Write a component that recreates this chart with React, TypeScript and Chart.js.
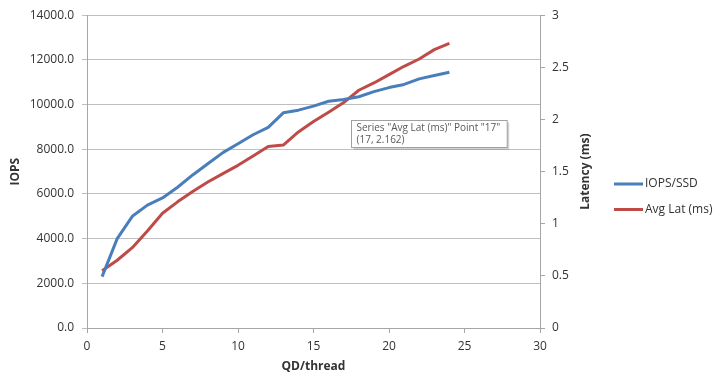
import React, { useEffect, useRef } from 'react';
import { Chart, registerables } from 'chart.js';

Chart.register(...registerables);

// ---- Data ----
const qdPerThread = [1, 2, 3, 4, 5, 6, 7, 8, 9, 10, 11, 12, 13, 14, 15, 16, 17, 18, 19, 20, 21, 22, 23, 24];
const iopsPerSsd = [2300, 4000, 5000, 5500, 5820, 6300, 6850, 7350, 7850, 8250, 8650, 8980, 9630, 9750, 9930, 10150, 10230, 10350, 10580, 10760, 10900, 11150, 11300, 11450];
const avgLatMs = [0.55, 0.65, 0.77, 0.93, 1.1, 1.21, 1.31, 1.4, 1.48, 1.56, 1.65, 1.74, 1.755, 1.88, 1.98, 2.07, 2.162, 2.28, 2.35, 2.43, 2.51, 2.58, 2.67, 2.73];
const seriesLabels = ['IOPS/SSD', 'Avg Lat (ms)'];
const seriesColors = ['#4a7ebb', '#be4b48'];
const xTitle = 'QD/thread';
const yLeftTitle = 'IOPS';
const yRightTitle = 'Latency (ms)';
const tooltipSeries = 1;
const tooltipPointIndex = 16; // point "17"

const FONT = "'Open Sans', 'Noto Sans', 'DejaVu Sans', sans-serif";
const TEXT = '#333333';
const AXIS = '#a6a6a6';
const GRID = '#bfbfbf';

const overlayPlugin = {
  id: 'overlay',
  afterDraw(chart: any) {
    const { ctx, chartArea, scales } = chart;
    ctx.save();
    // right axis title (reads bottom-to-top)
    ctx.translate(586, (chartArea.top + chartArea.bottom) / 2);
    ctx.rotate(-Math.PI / 2);
    ctx.font = `bold 12px ${FONT}`;
    ctx.fillStyle = TEXT;
    ctx.textAlign = 'center';
    ctx.textBaseline = 'middle';
    ctx.fillText(yRightTitle, 0, 0);
    ctx.restore();

    // legend
    ctx.save();
    ctx.font = `12px ${FONT}`;
    ctx.textBaseline = 'middle';
    ctx.textAlign = 'left';
    seriesLabels.forEach((lab, i) => {
      const y = 184 + i * 25.5;
      ctx.strokeStyle = seriesColors[i];
      ctx.lineWidth = 3;
      ctx.beginPath();
      ctx.moveTo(614, y);
      ctx.lineTo(643, y);
      ctx.stroke();
      ctx.fillStyle = TEXT;
      ctx.fillText(lab, 645, y);
    });
    ctx.restore();

    // tooltip box
    const q = qdPerThread[tooltipPointIndex];
    const v = avgLatMs[tooltipPointIndex];
    const px = scales.x.getPixelForValue(q);
    const py = scales.y1.getPixelForValue(v);
    const line1 = `Series "${seriesLabels[tooltipSeries]}" Point "${q}"`;
    const line2 = `(${q}, ${v})`;
    ctx.save();
    ctx.font = `10px ${FONT}`;
    const w = Math.max(ctx.measureText(line1).width, ctx.measureText(line2).width) + 12;
    const h = 27;
    const bx = Math.round(px + 7) + 0.5;
    const by = Math.round(py + 17) + 0.5;
    ctx.fillStyle = 'rgba(0,0,0,0.18)';
    ctx.fillRect(bx + 2, by + 2, w, h);
    ctx.fillStyle = '#ffffff';
    ctx.fillRect(bx, by, w, h);
    ctx.strokeStyle = '#a0a0a0';
    ctx.lineWidth = 1;
    ctx.strokeRect(bx, by, w, h);
    ctx.fillStyle = '#595959';
    ctx.textBaseline = 'middle';
    ctx.textAlign = 'left';
    ctx.fillText(line1, bx + 5, by + 8);
    ctx.fillText(line2, bx + 5, by + 20);
    ctx.restore();
  },
};

export default function App() {
  const ref = useRef<HTMLCanvasElement>(null);
  useEffect(() => {
    document.body.style.margin = '0';
    Chart.defaults.font.family = FONT;
    Chart.defaults.font.size = 12;
    Chart.defaults.color = TEXT;
    const chart = new Chart(ref.current as HTMLCanvasElement, {
      type: 'line',
      data: {
        datasets: [
          {
            label: seriesLabels[0],
            data: qdPerThread.map((q, i) => ({ x: q, y: iopsPerSsd[i] })),
            borderColor: seriesColors[0],
            backgroundColor: seriesColors[0],
            borderWidth: 3,
            borderJoinStyle: 'round',
            pointRadius: 0,
            tension: 0,
            yAxisID: 'y',
          },
          {
            label: seriesLabels[1],
            data: qdPerThread.map((q, i) => ({ x: q, y: avgLatMs[i] })),
            borderColor: seriesColors[1],
            backgroundColor: seriesColors[1],
            borderWidth: 3,
            borderJoinStyle: 'round',
            pointRadius: 0,
            tension: 0,
            yAxisID: 'y1',
          },
        ],
      },
      options: {
        responsive: false,
        animation: false,
        layout: { padding: { left: 0, right: 120, top: 15, bottom: 0 } },
        plugins: { legend: { display: false }, tooltip: { enabled: false } },
        scales: {
          x: {
            type: 'linear',
            min: 0,
            max: 30,
            ticks: { stepSize: 5, padding: 6, color: TEXT, font: { size: 12 } },
            grid: { drawOnChartArea: false, tickLength: 5, color: AXIS },
            border: { color: AXIS },
            title: { display: true, text: xTitle, color: TEXT, font: { size: 12, weight: 'bold' }, padding: { top: 0, bottom: 4 } },
            afterFit: (s: any) => { s.height = 50; },
          },
          y: {
            position: 'left',
            min: 0,
            max: 14000,
            ticks: { stepSize: 2000, padding: 8, color: TEXT, callback: (val: any) => Number(val).toFixed(1) },
            grid: { color: GRID, tickLength: 5 },
            border: { color: AXIS },
            title: { display: true, text: yLeftTitle, color: TEXT, font: { size: 12, weight: 'bold' }, padding: { top: 8, bottom: 0 } },
            afterFit: (s: any) => { s.width = 87; },
          },
          y1: {
            position: 'right',
            min: 0,
            max: 3,
            ticks: { stepSize: 0.5, padding: 7, color: TEXT, callback: (val: any) => String(val) },
            grid: { drawOnChartArea: false, tickLength: 5, color: AXIS },
            border: { color: AXIS },
            afterFit: (s: any) => { s.width = 60; },
          },
        },
      } as any,
      plugins: [overlayPlugin],
    });
    return () => chart.destroy();
  }, []);
  return (
    <div style={{ width: 720, height: 378, background: '#ffffff' }}>
      <canvas ref={ref} width={720} height={378} />
    </div>
  );
}
